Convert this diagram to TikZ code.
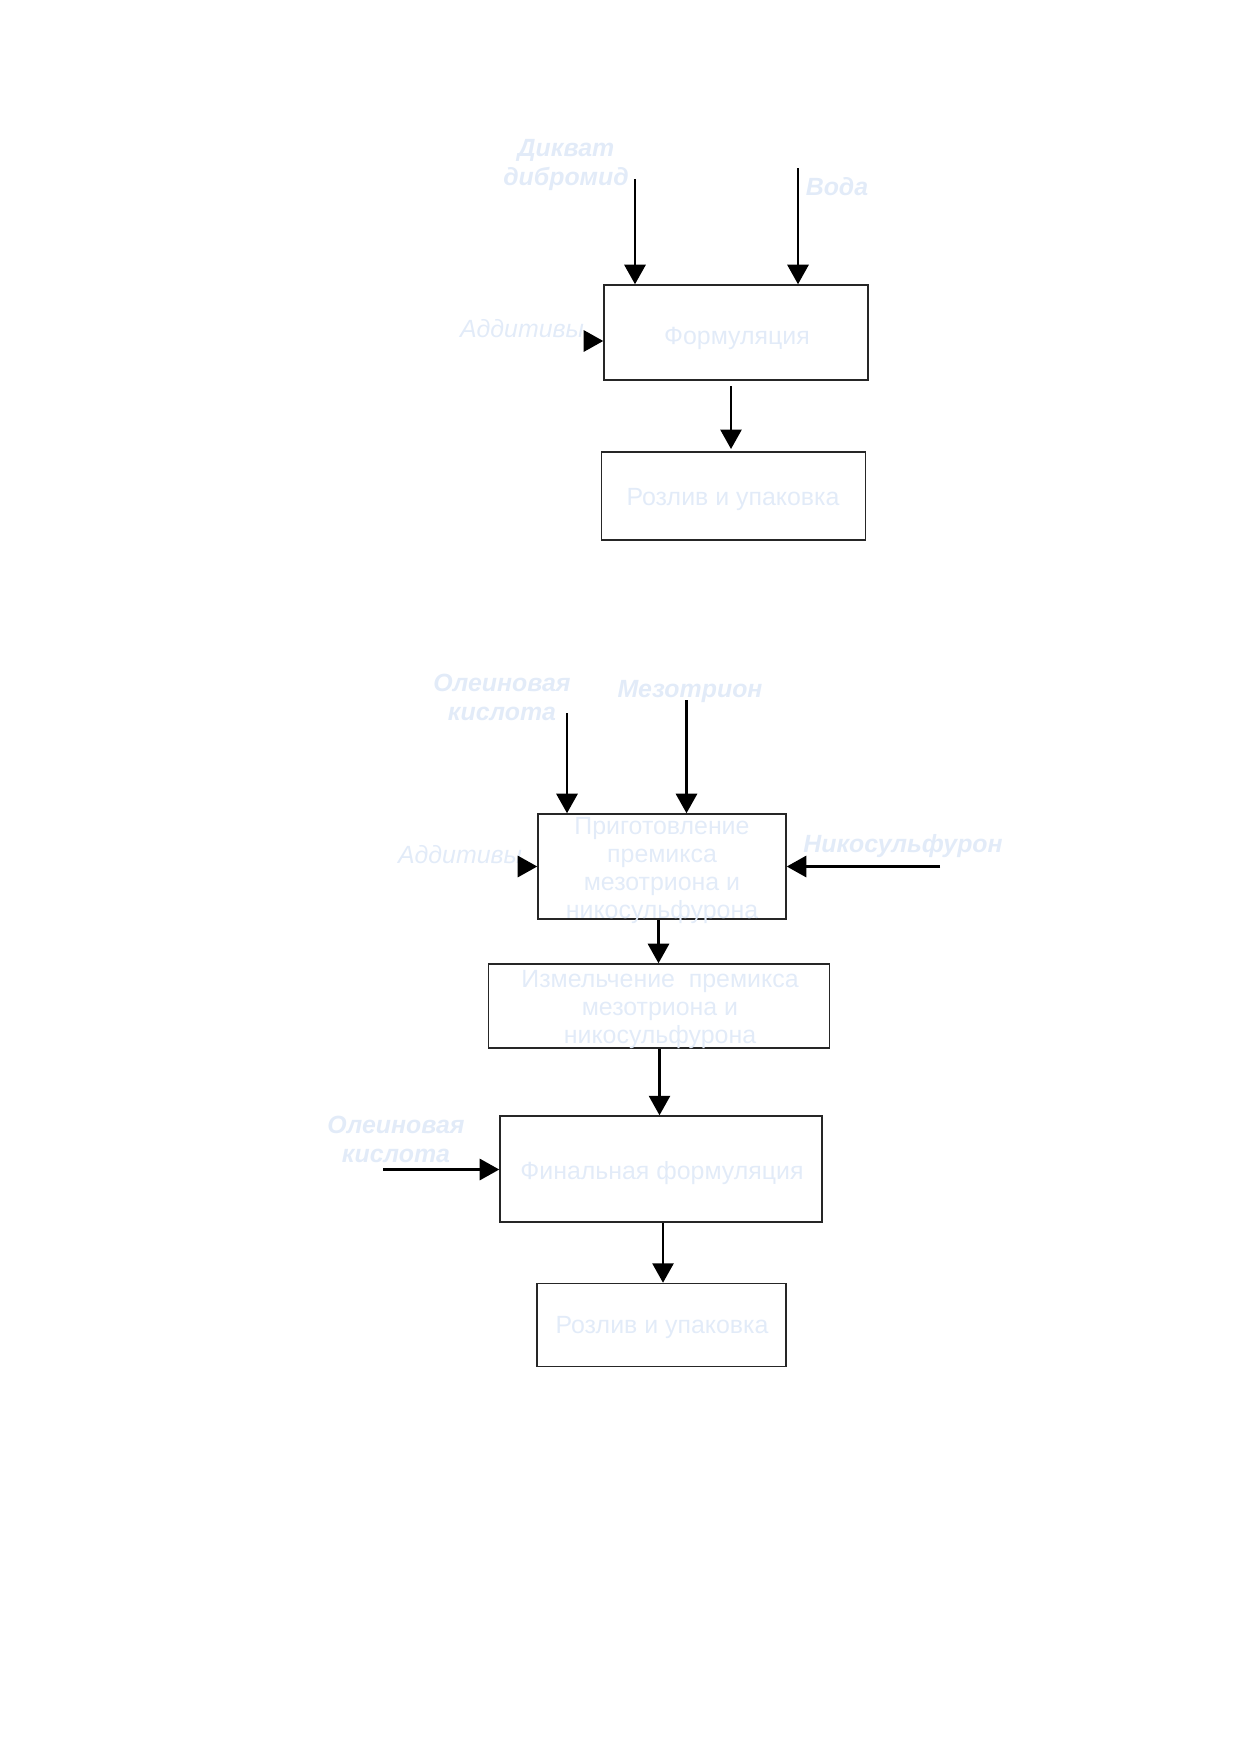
\documentclass[tikz,border=0pt]{standalone}
\usepackage{fontspec}
\setmainfont{Liberation Sans}
\usetikzlibrary{arrows.meta}
\definecolor{faintblue}{RGB}{226,235,248}
\newcommand{\pxu}{0.16935mm}
\begin{document}
\begin{tikzpicture}
      [
        x=\pxu, y=-\pxu,
        every node/.style={font=\fontsize{12}{14}\selectfont, text=faintblue},
        box/.style={draw=black!85, line width=0.75pt, inner sep=0pt},
        boxtext/.style={align=center, inner sep=0pt},
        inlabel/.style={font=\fontsize{12}{14.3}\selectfont\bfseries\itshape, align=center, inner sep=0pt},
        addlabel/.style={font=\fontsize{12}{14}\selectfont\itshape, inner sep=0pt},
        flow/.style={line width=1pt, -{Triangle[length=3.3mm,width=3.6mm]}}
      ]
      \useasboundingbox (0,0) rectangle (1240,1754);
      % first scheme
      \node[box, minimum width={264*\pxu}, minimum height={95*\pxu}] (form) at (736,332.5) {};
      \node[boxtext] (form-t) at (737,338) {Формуляция};
      \node[box, minimum width={264*\pxu}, minimum height={88*\pxu}] (fill1) at (733.5,496) {};
      \node[boxtext] (fill1-t) at (733,500) {Розлив и упаковка};
      \node[inlabel] (diquat) at (566,165) {Дикват\\дибромид};
      \node[inlabel] (water) at (837,187) {Вода};
      \node[addlabel] (add1) at (522,329) {Аддитивы};
      \coordinate (diquat-in) at (635,179);
      \coordinate (water-in) at (798,168);
      \coordinate (add1-in) at (585,341);
      \draw[flow] (diquat-in) -- (diquat-in |- form.north);
      \draw[flow] (water-in) -- (water-in |- form.north);
      \draw[flow] (add1-in) -- (add1-in -| form.west);
      \draw[flow] (731,386) -- (731,449);
      % second scheme
      \node[box, minimum width={248*\pxu}, minimum height={105*\pxu}] (prep) at (662,866.5) {};
      \node[boxtext, font=\fontsize{12}{13.4}\selectfont] (prep-t) at (662,870.5)
        {Приготовление\\премикса\\мезотриона и\\никосульфурона};
      \node[box, minimum width={341*\pxu}, minimum height={84*\pxu}] (mill) at (659,1006) {};
      \node[boxtext, font=\fontsize{12}{13.4}\selectfont] (mill-t) at (660,1009.5)
        {Измельчение\ \ премикса\\мезотриона и\\никосульфурона};
      \node[box, minimum width={322*\pxu}, minimum height={106*\pxu}] (final) at (661,1169) {};
      \node[boxtext] (final-t) at (662,1173) {Финальная формуляция};
      \node[box, minimum width={249*\pxu}, minimum height={83*\pxu}] (fill2) at (661.5,1325) {};
      \node[boxtext] (fill2-t) at (662,1328) {Розлив и упаковка};
      \node[inlabel] (oleic1) at (502,697.5) {Олеиновая\\кислота};
      \node[inlabel] (meso) at (690,692) {Мезотрион};
      \node[addlabel] (add2) at (460,855) {Аддитивы};
      \node[inlabel] (nico) at (903,846) {Никосульфурон};
      \node[inlabel] (oleic2) at (396,1139.5) {Олеиновая\\кислота};
      \coordinate (oleic1-in) at (567,713);
      \coordinate (meso-in) at (686.5,700);
      \coordinate (add2-in) at (519,866.5);
      \coordinate (nico-in) at (940,866.5);
      \coordinate (oleic2-in) at (383,1169.5);
      \draw[flow] (oleic1-in) -- (oleic1-in |- prep.north);
      \draw[flow] (meso-in) -- (meso-in |- prep.north);
      \draw[flow] (add2-in) -- (add2-in -| prep.west);
      \draw[flow] (nico-in) -- (nico-in -| prep.east);
      \draw[flow] (prep.south -| 658.5,0) -- (mill.north -| 658.5,0);
      \draw[flow] (mill.south -| 659.5,0) -- (final.north -| 659.5,0);
      \draw[flow] (oleic2-in) -- (oleic2-in -| final.west);
      \draw[flow] (final.south -| 663,0) -- (fill2.north -| 663,0);
\end{tikzpicture}
\end{document}
